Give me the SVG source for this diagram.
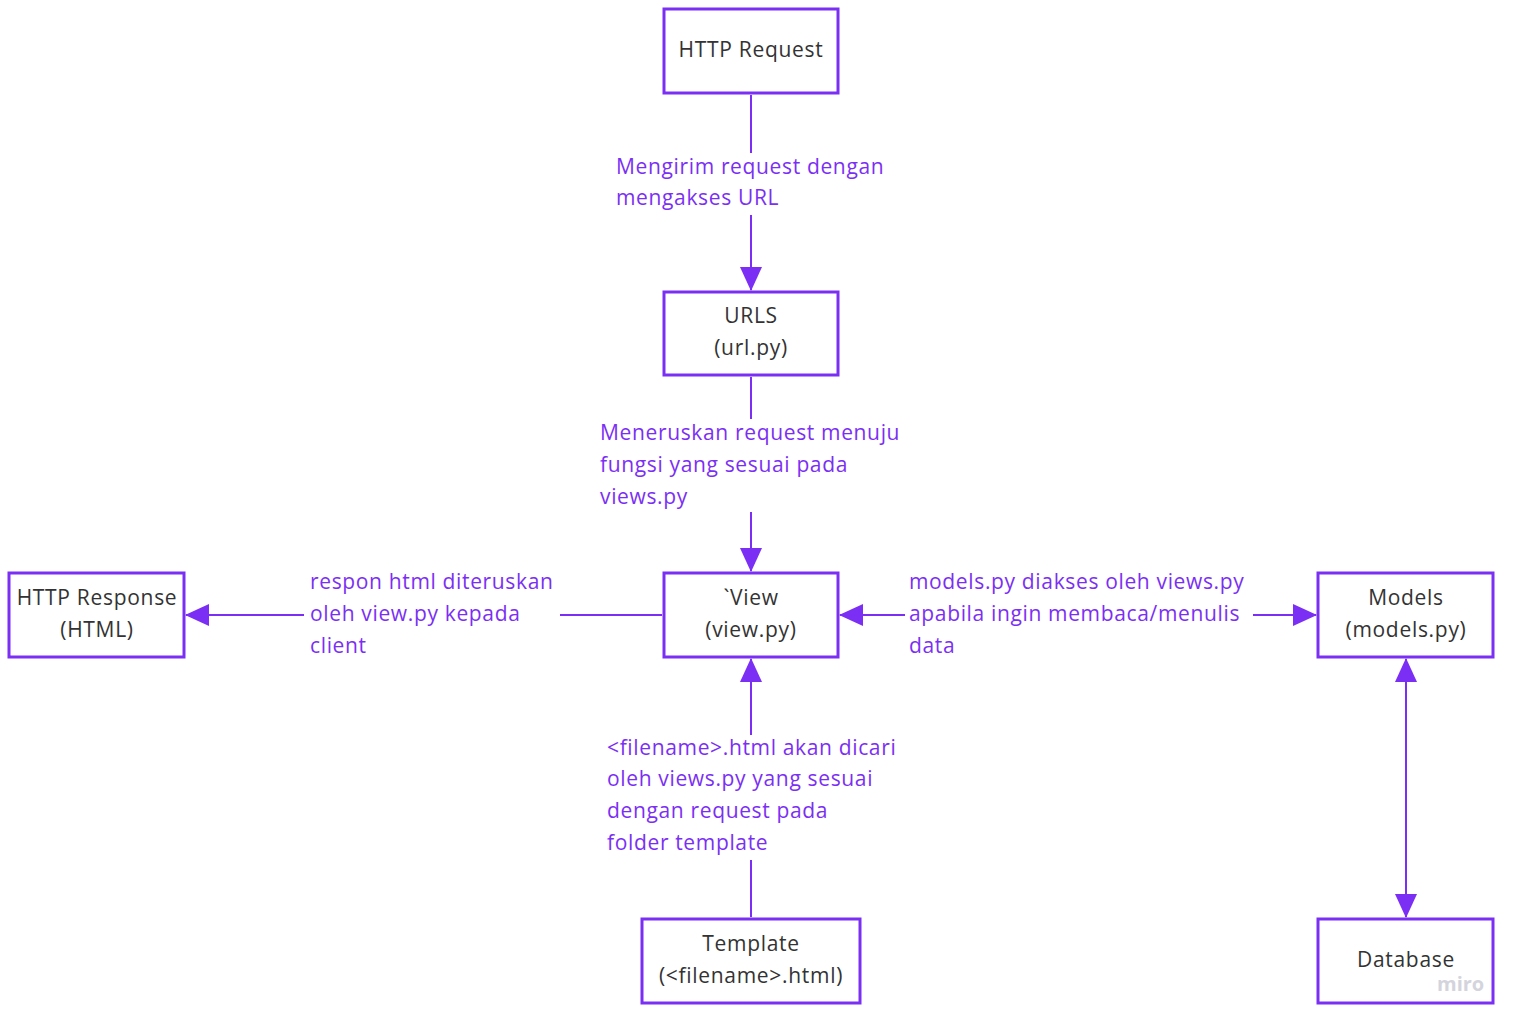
<svg xmlns="http://www.w3.org/2000/svg" width="1520" height="1027" viewBox="0 0 1520 1027">
<style>
.node rect{fill:#fff;stroke:#7b2ff5;stroke-width:3}
.node text{font-family:"Open Sans","Liberation Sans",sans-serif;font-size:21px;letter-spacing:0.7px;fill:#333;text-anchor:middle}
.lbl{font-family:"Open Sans","Liberation Sans",sans-serif;font-size:21px;letter-spacing:0.65px;fill:#7b2ff5}
.edge line{stroke:#7b2ff5;stroke-width:2}
.wm{font-family:"Open Sans","Liberation Sans",sans-serif;font-size:20px;font-weight:bold;fill:#d4d4dd}
</style>
<defs>
<marker id="ah" viewBox="0 0 24 22" refX="23" refY="11" markerWidth="24" markerHeight="22" markerUnits="userSpaceOnUse" orient="auto-start-reverse">
<path d="M0,0 L24,11 L0,22 Z" fill="#7b2ff5"/>
</marker>
</defs>
<rect width="1520" height="1027" fill="#fff"/>
<g id="connectors" class="edge">
<line x1="751" y1="95" x2="751" y2="153"/>
<line x1="751" y1="215" x2="751" y2="290" marker-end="url(#ah)"/>
<line x1="751" y1="377" x2="751" y2="419"/>
<line x1="751" y1="512" x2="751" y2="571" marker-end="url(#ah)"/>
<line x1="662" y1="615" x2="560" y2="615"/>
<line x1="304" y1="615" x2="186" y2="615" marker-end="url(#ah)"/>
<line x1="905" y1="615" x2="840" y2="615" marker-end="url(#ah)"/>
<line x1="1253" y1="615" x2="1316" y2="615" marker-end="url(#ah)"/>
<line x1="751" y1="917" x2="751" y2="860"/>
<line x1="751" y1="735" x2="751" y2="659" marker-end="url(#ah)"/>
<line x1="1406" y1="659" x2="1406" y2="917" marker-start="url(#ah)" marker-end="url(#ah)"/>
<text class="lbl"><tspan x="616" y="174">Mengirim request dengan</tspan><tspan x="616" y="205">mengakses URL</tspan></text>
<text class="lbl"><tspan x="600" y="440">Meneruskan request menuju</tspan><tspan x="600" y="472">fungsi yang sesuai pada</tspan><tspan x="600" y="504">views.py</tspan></text>
<text class="lbl"><tspan x="310" y="589">respon html diteruskan</tspan><tspan x="310" y="621">oleh view.py kepada</tspan><tspan x="310" y="653">client</tspan></text>
<text class="lbl"><tspan x="909" y="589">models.py diakses oleh views.py</tspan><tspan x="909" y="621">apabila ingin membaca/menulis</tspan><tspan x="909" y="653">data</tspan></text>
<text class="lbl"><tspan x="607" y="755">&lt;filename&gt;.html akan dicari</tspan><tspan x="607" y="786">oleh views.py yang sesuai</tspan><tspan x="607" y="818">dengan request pada</tspan><tspan x="607" y="850">folder template</tspan></text>
</g>
<g id="http-request" class="node"><rect x="664" y="9" width="174" height="84"/><text x="751" y="57">HTTP Request</text></g>
<g id="urls" class="node"><rect x="664" y="292" width="174" height="83"/><text x="751" y="323">URLS</text><text x="751" y="355">(url.py)</text></g>
<g id="view" class="node"><rect x="664" y="573" width="174" height="84"/><text x="751" y="605">`View</text><text x="751" y="637">(view.py)</text></g>
<g id="http-response" class="node"><rect x="9" y="573" width="175" height="84"/><text x="97" y="605">HTTP Response</text><text x="97" y="637">(HTML)</text></g>
<g id="models" class="node"><rect x="1318" y="573" width="175" height="84"/><text x="1406" y="605">Models</text><text x="1406" y="637">(models.py)</text></g>
<g id="template" class="node"><rect x="642" y="919" width="218" height="84"/><text x="751" y="951">Template</text><text x="751" y="983">(&lt;filename&gt;.html)</text></g>
<g id="database" class="node"><rect x="1318" y="919" width="175" height="84"/><text x="1406" y="967">Database</text></g>
<text class="wm" x="1437" y="991">miro</text>
</svg>
